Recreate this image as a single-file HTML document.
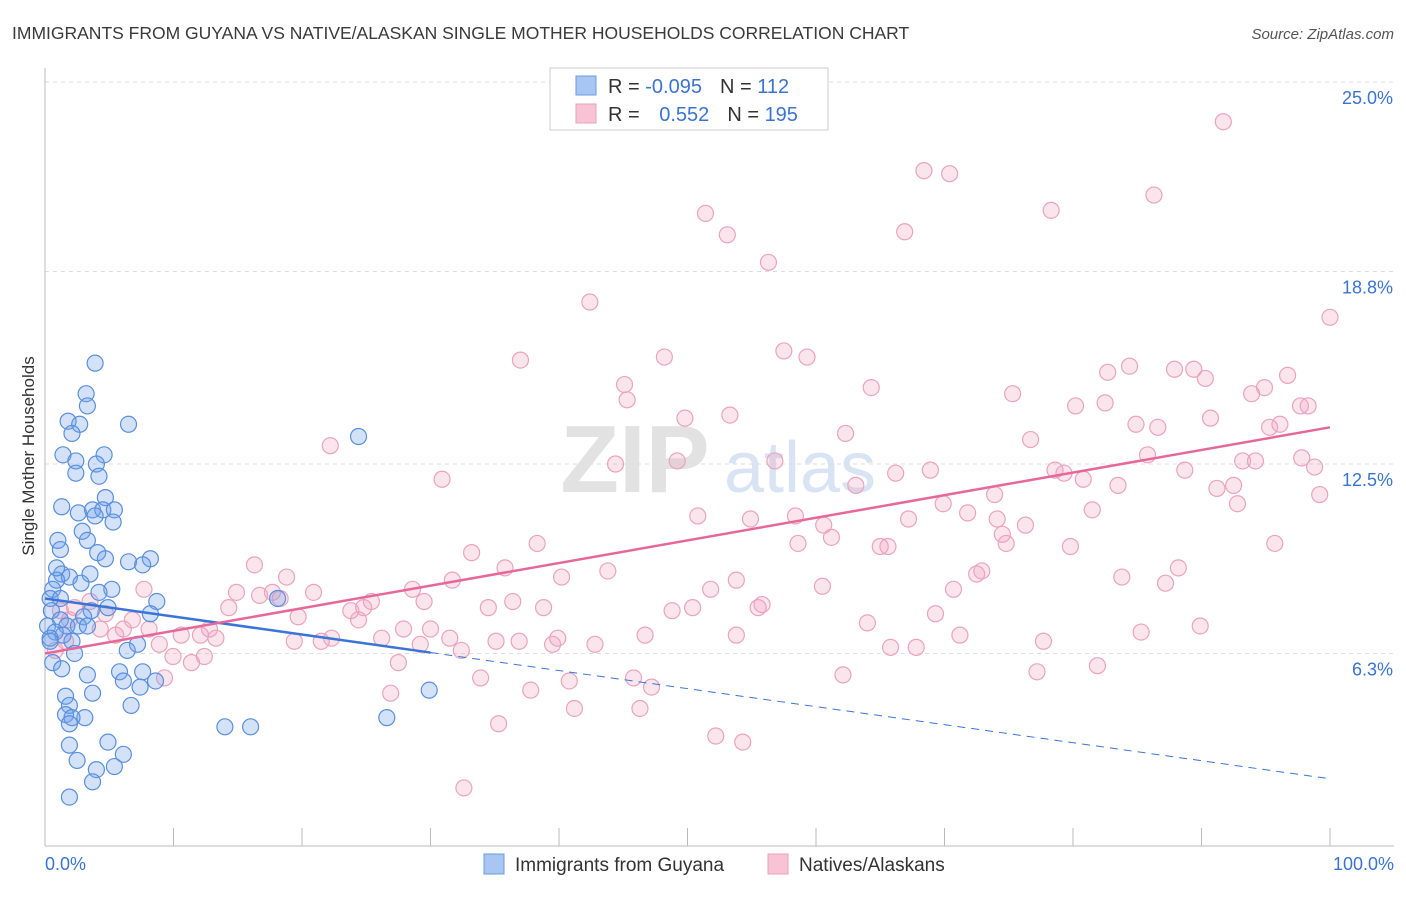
<!DOCTYPE html>
<html><head><meta charset="utf-8"><style>
body{margin:0;background:#fff;font-family:"Liberation Sans",sans-serif;}
svg text{font-family:"Liberation Sans",sans-serif;}
</style></head><body>
<svg id="chart" width="1406" height="892" xmlns="http://www.w3.org/2000/svg">
<text x="12" y="39" font-size="17.5" fill="#3a3a3a">IMMIGRANTS FROM GUYANA VS NATIVE/ALASKAN SINGLE MOTHER HOUSEHOLDS CORRELATION CHART</text>
<text x="1394" y="39" font-size="15" fill="#555" font-style="italic" text-anchor="end">Source: ZipAtlas.com</text>
<text transform="translate(34,456) rotate(-90)" font-size="17" fill="#333" text-anchor="middle">Single Mother Households</text>
<g>
<text x="635" y="492" font-size="96" fill="#e2e2e2" font-family="Liberation Serif" text-anchor="middle" font-weight="bold">ZIP</text>
<text x="800" y="492" font-size="72" fill="#d8e4f3" text-anchor="middle">atlas</text>
</g>
<g id="grid"></g>
<g id="axes"></g>
<g id="pts"></g>
<g id="trends"></g>
<g>
<rect x="550" y="68" width="278" height="62" fill="#fff" stroke="#ccc"/>
<rect x="576" y="76" width="20" height="19" fill="#a9c6f2" stroke="#6a9be0"/>
<rect x="576" y="104" width="20" height="19" fill="#f8c4d5" stroke="#e8a0ba"/>
<text x="608" y="93" font-size="20" fill="#333">R = <tspan fill="#3b73d1">-0.095</tspan><tspan dx="18">N = </tspan><tspan fill="#3b73d1">112</tspan></text>
<text x="608" y="121" font-size="20" fill="#333">R = <tspan fill="#3b73d1" dx="14">0.552</tspan><tspan dx="18">N = </tspan><tspan fill="#3b73d1">195</tspan></text>
</g>
<g>
<rect x="484" y="854" width="20" height="20" fill="#a9c6f2" stroke="#6a9be0"/>
<text x="515" y="871" font-size="19" fill="#333">Immigrants from Guyana</text>
<rect x="768" y="854" width="20" height="20" fill="#f8c4d5" stroke="#e8a0ba"/>
<text x="799" y="871" font-size="19" fill="#333">Natives/Alaskans</text>
</g>
<text x="45" y="870" font-size="18" fill="#3b73d1">0.0%</text>
<text x="1394" y="870" font-size="18" fill="#3b73d1" text-anchor="end">100.0%</text>
</svg>
<script>
const yTicks=[25.0,18.8,12.5,6.3];
const yTickLabels=["25.0%","18.8%","12.5%","6.3%"];
const blueX=[3.9,3.2,3.3,1.8,2.7,2.1,6.5,24.4,1.4,4.6,2.4,4.0,2.4,4.2,4.7,1.3,3.7,4.5,5.4,2.6,3.9,5.3,2.9,1.0,3.3,1.2,4.1,4.7,6.5,8.2,7.6,1.3,1.9,3.5,0.9,2.8,0.6,5.2,4.2,0.4,1.2,8.7,4.9,0.5,3.6,8.2,1.2,3.0,0.2,1.7,2.6,0.8,1.4,0.4,2.1,7.2,6.4,0.6,1.3,3.3,5.8,7.6,6.1,8.6,7.4,3.7,1.6,29.9,6.7,1.9,1.6,3.1,2.1,26.6,1.9,14.0,16.0,4.9,1.9,6.1,2.5,5.4,4.0,3.7,1.9,3.3,0.4,18.1,0.9,2.3];
const blueY=[15.8,14.8,14.4,13.9,13.8,13.5,13.8,13.4,12.8,12.8,12.6,12.5,12.2,12.1,11.4,11.1,11.0,11.0,11.0,10.9,10.8,10.6,10.3,10.0,10.0,9.7,9.6,9.4,9.3,9.4,9.2,8.9,8.8,8.9,8.7,8.6,8.4,8.4,8.3,8.1,8.1,8.0,7.8,7.7,7.7,7.6,7.4,7.5,7.2,7.2,7.2,7.0,6.9,6.8,6.7,6.6,6.4,6.0,5.8,5.6,5.7,5.7,5.4,5.4,5.2,5.0,4.9,5.1,4.6,4.6,4.3,4.2,4.2,4.2,4.0,3.9,3.9,3.4,3.3,3.0,2.8,2.6,2.5,2.1,1.6,7.2,6.7,8.1,9.1,6.3];
const pinkX=[91.7,68.4,70.4,86.3,51.4,78.3,53.1,66.9,56.3,42.4,100,57.5,59.3,37.0,48.2,82.7,84.4,87.9,89.4,90.3,96.7,45.1,64.3,94.9,45.3,75.3,93.9,80.2,82.5,97.7,98.3,49.8,53.3,90.7,84.9,86.6,95.3,96.1,62.3,76.7,22.2,49.2,56.8,85.8,93.2,94.2,97.8,44.4,98.8,68.9,78.6,79.3,88.7,30.9,66.2,80.8,63.1,83.5,91.2,92.5,73.9,99.2,69.9,92.8,81.5,50.8,54.9,58.4,67.2,71.8,74.1,76.3,60.6,74.5,61.2,38.3,58.6,65.0,65.6,74.8,79.8,95.7,33.2,16.3,35.8,43.8,40.2,72.5,72.9,83.8,88.2,18.8,31.7,53.8,87.2,51.8,60.5,70.7,7.7,14.9,16.7,17.7,20.9,28.6,29.5,36.4,25.4,14.3,18.3,34.5,38.8,23.8,24.8,48.8,50.4,55.5,55.8,19.7,24.4,69.3,89.9,64.0,4.7,6.8,6.1,8.1,12.8,27.9,30.0,10.6,12.1,13.3,5.5,22.3,19.4,21.5,26.2,31.5,39.9,46.7,53.8,85.3,35.1,36.9,39.5,42.8,71.2,77.7,29.2,32.4,65.8,67.8,8.9,9.96,12.4,11.4,27.5,81.9,77.2,62.1,33.9,40.8,45.8,47.2,9.3,37.8,26.9,41.2,46.3,35.3,52.2,54.3,32.6,1.2,1.9,2.3,3.5,4.3,0.8,1.6];
const pinkY=[23.7,22.1,22.0,21.3,20.7,20.8,20.0,20.1,19.1,17.8,17.3,16.2,16.0,15.9,16.0,15.5,15.7,15.6,15.6,15.3,15.4,15.1,15.0,15.0,14.6,14.8,14.8,14.4,14.5,14.4,14.4,14.0,14.1,14.0,13.8,13.7,13.7,13.8,13.5,13.3,13.1,12.6,12.6,12.8,12.6,12.6,12.7,12.5,12.4,12.3,12.3,12.2,12.3,12.0,12.2,12.0,11.8,11.8,11.7,11.8,11.5,11.5,11.2,11.2,11.0,10.8,10.7,10.8,10.7,10.9,10.7,10.5,10.5,10.2,10.1,9.9,9.9,9.8,9.8,9.9,9.8,9.9,9.6,9.2,9.1,9.0,8.8,8.9,9.0,8.8,9.1,8.8,8.7,8.7,8.6,8.4,8.5,8.4,8.4,8.3,8.2,8.3,8.3,8.4,8.0,8.0,8.0,7.8,8.1,7.8,7.8,7.7,7.8,7.7,7.8,7.8,7.9,7.5,7.4,7.6,7.2,7.3,7.6,7.4,7.1,7.1,7.1,7.1,7.1,6.9,6.9,6.8,6.9,6.8,6.7,6.7,6.8,6.8,6.8,6.9,6.9,7.0,6.7,6.7,6.6,6.6,6.9,6.7,6.6,6.4,6.5,6.5,6.6,6.2,6.2,6.0,6.0,5.9,5.7,5.6,5.5,5.4,5.5,5.2,5.5,5.1,5.0,4.5,4.5,4.0,3.6,3.4,1.9,7.7,7.4,7.8,8.0,7.1,6.4,6.7];
const blueTrend=[8.1,2.2];
const blueSolidEnd=30;
const pinkTrend=[6.3,13.7];
const xTicks=[0,10,20,30,40,50,60,70,80,90,100];

const NS="http://www.w3.org/2000/svg";
const X=v=>45+v*12.85;
const Y=v=>846-v*30.56;
function mk(tag,attrs,parent){const e=document.createElementNS(NS,tag);for(const k in attrs)e.setAttribute(k,attrs[k]);parent.appendChild(e);return e;}
const grid=document.getElementById('grid'),axes=document.getElementById('axes'),pts=document.getElementById('pts'),tr=document.getElementById('trends');
yTicks.forEach((t,i)=>{
 const l=mk('line',{x1:45,x2:1394,y1:Y(t),y2:Y(t),stroke:'#ddd','stroke-dasharray':'4,4'},grid);
 
 
 const tx=mk('text',{x:1393,y:Y(t)+22,'font-size':18,fill:'#3b73d1','text-anchor':'end'},grid);
 tx.textContent=yTickLabels[i];
 
 
});
const ya=mk('line',{x1:45,x2:45,y1:68,y2:846,stroke:'#bbb'},axes);


const xa=mk('line',{x1:45,x2:1394,y1:846,y2:846,stroke:'#bbb'},axes);


xTicks.forEach(t=>{
 const l=mk('line',{x1:X(t),x2:X(t),y1:828,y2:846,stroke:'#bbb'},axes);
 
 
});
pinkX.forEach((x,i)=>{
 const c=mk('circle',{cx:X(x),cy:Y(pinkY[i]),r:8,fill:'rgba(242,160,190,0.28)',stroke:'#eba3bd','stroke-width':1.2},pts);
 
 
});
blueX.forEach((x,i)=>{
 const c=mk('circle',{cx:X(x),cy:Y(blueY[i]),r:8,fill:'rgba(110,160,235,0.3)',stroke:'#5a8fdc','stroke-width':1.2},pts);
 
 
});
const bAt=x=>blueTrend[0]+(blueTrend[1]-blueTrend[0])*x/100;
const b1=mk('line',{x1:X(0),y1:Y(bAt(0)),x2:X(blueSolidEnd),y2:Y(bAt(blueSolidEnd)),stroke:'#3a74d6','stroke-width':2.5},tr);


const b2=mk('line',{x1:X(blueSolidEnd),y1:Y(bAt(blueSolidEnd)),x2:X(100),y2:Y(bAt(100)),stroke:'#3a74d6','stroke-width':1,'stroke-dasharray':'8,6'},tr);


const p1=mk('line',{x1:X(0),y1:Y(pinkTrend[0]),x2:X(100),y2:Y(pinkTrend[1]),stroke:'#e6689a','stroke-width':2.5},tr);


</script>
</body></html>
